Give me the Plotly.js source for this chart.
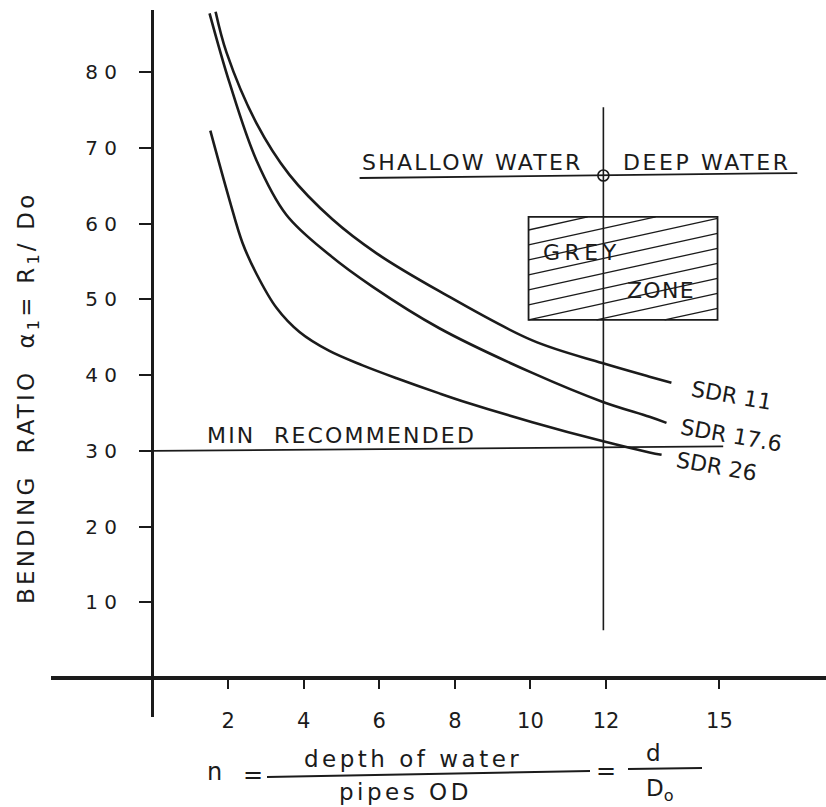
<!DOCTYPE html>
<html>
<head>
<meta charset="utf-8">
<script src="https://cdn.plot.ly/plotly-3.0.1.min.js"></script>
<style>
  html, body { margin: 0; padding: 0; background: #fff; }
  #chart { width: 826px; height: 807px; }
</style>
</head>
<body>
<div id="chart"></div>
<script>
// ---- data ----
const sdr11X  = [1.67, 1.96, 2.75, 3.62, 4.76, 5.93, 7.59, 10.05, 11.90, 13.15, 13.73];
const sdr11Y  = [88.0, 82.6, 73.3, 66.5, 60.6, 56.1, 51.1, 44.6, 41.6, 39.8, 39.0];
const sdr176X = [1.51, 2.04, 2.75, 3.54, 4.68, 5.82, 7.59, 10.05, 11.90, 13.15, 13.60];
const sdr176Y = [87.8, 78.6, 68.4, 61.2, 55.9, 51.7, 46.2, 40.3, 36.5, 34.5, 33.7];
const sdr26X  = [1.53, 2.04, 2.38, 2.75, 3.28, 3.89, 4.68, 5.56, 6.46, 7.59, 8.31, 10.05, 11.90, 13.15, 13.47];
const sdr26Y  = [72.3, 63.1, 57.5, 53.4, 48.9, 45.7, 43.2, 41.3, 39.6, 37.6, 36.4, 33.8, 31.3, 29.8, 29.5];
const seriesNames = ['SDR 11', 'SDR 17.6', 'SDR 26'];

const xTickVals = [2, 4, 6, 8, 10, 12, 15];
const xTickText = ['2', '4', '6', '8', '10', '12', '15'];
const yTickVals = [10, 20, 30, 40, 50, 60, 70, 80];
const yTickText = ['1 0', '2 0', '3 0', '4 0', '5 0', '6 0', '7 0', '8 0'];

const minRecommended = [30.0, 30.6];     // bending ratio at n = 0 and at line end
const minLineN = [0, 15.1];
const transitionN = 11.93;               // shallow / deep water boundary
const transitionSpan = [6.3, 75.4];
const waterLineN = [5.48, 17.06];
const waterLineY = [66.05, 66.7];
const greyZoneN = [9.95, 14.95];
const greyZoneAlpha = [47.3, 60.9];

// ---- helpers ----
const INK = '#1b1b1b';
const FONT = 'DejaVu Sans, Liberation Sans, sans-serif';
const W = 826, H = 807, ML = 51, MR = 0, MT = 10, MB = 90;
const PW = W - ML - MR, PH = H - MT - MB;
const px2paperX = p => (p - ML) / PW;
const py2paperY = p => (H - MB - p) / PH;
const sp = (t, ls) => '<span style="letter-spacing:' + ls + 'px">' + t + '</span>';

function curve(x, y, name) {
  return { x: x, y: y, name: name, type: 'scatter', mode: 'lines',
           line: { color: INK, width: 2.6, shape: 'spline', smoothing: 1 },
           hoverinfo: 'x+y+name', showlegend: false };
}
const traces = [
  curve(sdr11X, sdr11Y, seriesNames[0]),
  curve(sdr176X, sdr176Y, seriesNames[1]),
  curve(sdr26X, sdr26Y, seriesNames[2]),
  { x: [transitionN], y: [(waterLineY[0] + waterLineY[1]) / 2], type: 'scatter', mode: 'markers',
    marker: { symbol: 'circle-open', size: 11, color: INK, line: { width: 1.6, color: INK } },
    showlegend: false, hoverinfo: 'skip' }
];

const shapes = [];
shapes.push({ type: 'line', xref: 'x', yref: 'y', x0: minLineN[0], x1: minLineN[1],
  y0: minRecommended[0], y1: minRecommended[1], line: { color: INK, width: 1.8 } });
shapes.push({ type: 'line', xref: 'x', yref: 'y', x0: transitionN, x1: transitionN,
  y0: transitionSpan[0], y1: transitionSpan[1], line: { color: INK, width: 1.6 } });
shapes.push({ type: 'line', xref: 'x', yref: 'y', x0: waterLineN[0], x1: waterLineN[1],
  y0: waterLineY[0], y1: waterLineY[1], line: { color: INK, width: 1.8 } });
shapes.push({ type: 'rect', xref: 'x', yref: 'y', x0: greyZoneN[0], x1: greyZoneN[1],
  y0: greyZoneAlpha[0], y1: greyZoneAlpha[1], line: { color: INK, width: 1.8 } });
(function () {
  const [gx0, gx1] = greyZoneN, [gy0, gy1] = greyZoneAlpha;
  const s = 1.10, dy = 1.98;
  for (let k = -12; k <= 12; k++) {
    const xa = gx0 - k * dy / s;
    const xb = gx0 + (gy1 - gy0 - k * dy) / s;
    const xs = Math.max(gx0, xa), xe = Math.min(gx1, xb);
    if (xe - xs > 0.05) {
      shapes.push({ type: 'line', xref: 'x', yref: 'y', x0: xs, x1: xe,
        y0: gy0 + s * (xs - gx0) + k * dy, y1: gy0 + s * (xe - gx0) + k * dy,
        line: { color: INK, width: 1.3 } });
    }
  }
})();
// fraction bars of the x-axis formula
shapes.push({ type: 'line', xref: 'paper', yref: 'paper', x0: px2paperX(267), x1: px2paperX(590),
  y0: py2paperY(777), y1: py2paperY(771), line: { color: INK, width: 2.2 } });
shapes.push({ type: 'line', xref: 'paper', yref: 'paper', x0: px2paperX(628), x1: px2paperX(702),
  y0: py2paperY(769), y1: py2paperY(768), line: { color: INK, width: 2.2 } });

function ptxt(text, px, py, size, extra) {
  return Object.assign({ text: text, x: px2paperX(px), y: py2paperY(py), xref: 'paper', yref: 'paper',
    showarrow: false, font: { family: FONT, size: size, color: INK },
    xanchor: 'center', yanchor: 'middle' }, extra || {});
}
const annotations = [
  ptxt(sp('BENDING  RATIO  α<sub>1</sub>= R<sub>1</sub>/ Do', 3.2), 28, 398, 23, { textangle: -90 }),
  ptxt(sp('SHALLOW WATER', 2.2), 472, 162, 22),
  ptxt(sp('DEEP WATER', 2.6), 707, 162, 22),
  ptxt(sp('GREY', 4.5), 582, 252, 22),
  ptxt(sp('ZONE', 1.3), 661, 290, 22),
  ptxt(sp('MIN  RECOMMENDED', 2.2), 341, 435, 22),
  ptxt(seriesNames[0], 731, 395, 22, { textangle: 10 }),
  ptxt(seriesNames[1], 731, 436, 22, { textangle: 10 }),
  ptxt(seriesNames[2], 716, 466, 22, { textangle: 10 }),
  ptxt('n', 214, 772, 24),
  ptxt('=', 253, 775, 24),
  ptxt(sp('depth of water', 3.5), 413, 759, 23),
  ptxt(sp('pipes OD', 3.5), 405, 792, 23),
  ptxt('=', 606, 771, 24),
  ptxt('d', 653, 753, 23),
  ptxt('D<sub>o</sub>', 660, 790, 23)
];

const layout = {
  width: W, height: H,
  margin: { l: ML, r: MR, t: MT, b: MB, pad: 0 },
  paper_bgcolor: '#fff', plot_bgcolor: '#fff',
  showlegend: false,
  font: { family: FONT, color: INK },
  xaxis: {
    range: [-2.685, 17.82], domain: [0, 1], anchor: 'free', position: py2paperY(678),
    showline: true, linewidth: 4, linecolor: INK, showgrid: false, zeroline: false,
    ticks: 'outside', ticklen: 9, tickwidth: 2, tickcolor: INK,
    tickvals: xTickVals, ticktext: xTickText, ticklabelstandoff: 14,
    tickfont: { family: FONT, size: 21, color: INK }, fixedrange: true
  },
  yaxis: {
    range: [-5.15, 88.24], domain: [0, 1], anchor: 'free', position: px2paperX(152),
    showline: true, linewidth: 3, linecolor: INK, showgrid: false, zeroline: false,
    ticks: 'outside', ticklen: 12, tickwidth: 2, tickcolor: INK,
    tickvals: yTickVals, ticktext: yTickText, ticklabelstandoff: 18,
    tickfont: { family: FONT, size: 20, color: INK },
    fixedrange: true
  },
  shapes: shapes,
  annotations: annotations
};

Plotly.newPlot('chart', traces, layout, { displayModeBar: false, staticPlot: true });
</script>
</body>
</html>
